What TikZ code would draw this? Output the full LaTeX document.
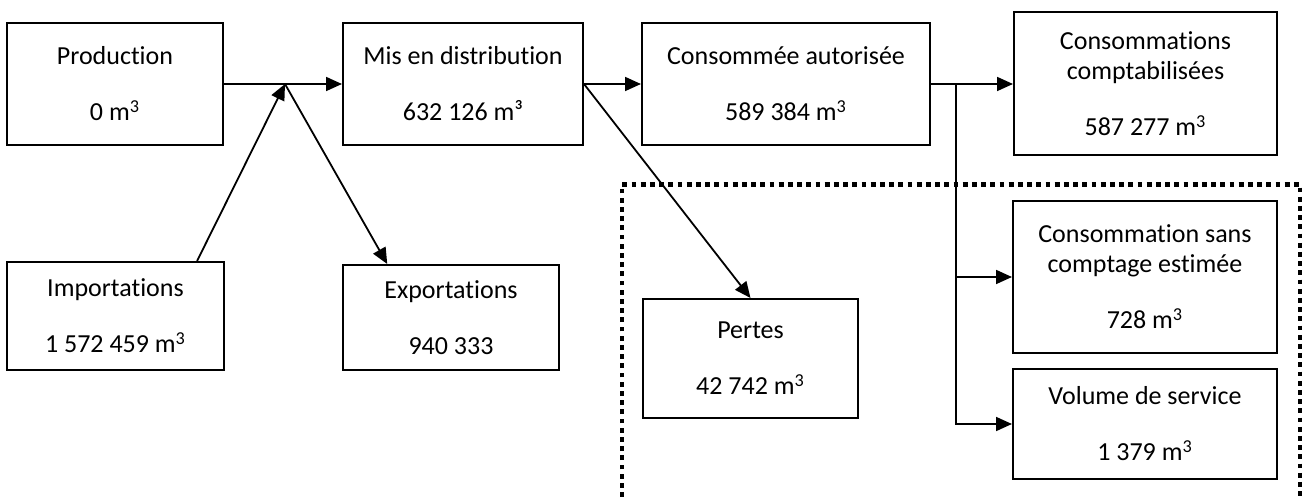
\documentclass[tikz,border=0pt]{standalone}
\usepackage{fontspec}
\setmainfont{Carlito}[Ligatures=NoCommon]
\usepackage{tikz}
\usetikzlibrary{arrows.meta}

\begin{document}
\begin{tikzpicture}[
  x=0.5pt, y=-0.5pt,
  every node/.style={font=\fontsize{13}{15}\selectfont, align=center},
  bloc/.style={rectangle, draw, line width=1pt, inner sep=2pt},
  flux/.style={draw, line width=0.9pt, -{Triangle[length=8pt, width=7pt]}},
  perimetre/.style={line width=2.4pt, dash pattern=on 2.4pt off 2.2pt},
]
  \useasboundingbox (0,0) rectangle (1307,497);

  % boxes
  \node[bloc, minimum width=108pt, minimum height=61pt] (prod) at (115,84) {Production\\[13pt]0 m\textsuperscript{3}};
  \node[bloc, minimum width=120pt, minimum height=61pt] (mis) at (463,84) {Mis en distribution\\[13pt]632 126 m³};
  \node[bloc, minimum width=144pt, minimum height=61pt] (auto) at (786,84) {Consommée autorisée\\[13pt]589 384 m\textsuperscript{3}};
  \node[bloc, minimum width=131.5pt, minimum height=71.5pt] (compt) at (1145.5,84) {Consommations\\comptabilisées\\[13pt]587 277 m\textsuperscript{3}};
  \node[bloc, minimum width=108.5pt, minimum height=54pt] (imp) at (115.5,316) {Importations\\[13pt]1 572 459 m\textsuperscript{3}};
  \node[bloc, minimum width=108pt, minimum height=52.5pt] (exp) at (451,317.5) {Exportations\\[13pt]940 333};
  \node[bloc, minimum width=107.5pt, minimum height=59.5pt] (pertes) at (750.5,358.5) {Pertes\\[13pt]42 742 m\textsuperscript{3}};
  \node[bloc, minimum width=132pt, minimum height=76pt] (csc) at (1145,277) {Consommation sans\\comptage estimée\\[13pt]728 m\textsuperscript{3}};
  \node[bloc, minimum width=132pt, minimum height=55pt] (vol) at (1145,424) {Volume de service\\[13pt]1 379 m\textsuperscript{3}};

  % losses perimeter
  \draw[perimetre] (622,497) -- (622,184.5) -- (1300,184.5) -- (1300,497);

  % flows
  \coordinate (jn) at (285,84);
  \coordinate (br) at (956,84);
  \draw[flux] (prod.east) -- (mis.west);
  \draw[flux] (imp.34) -- (jn);
  \draw[flux] (jn) -- (exp.140);
  \draw[flux] (mis.east) -- (auto.west);
  \draw[flux] (mis.east) -- (pertes.north);
  \draw[flux] (auto.east) -- (compt.west);
  \draw[flux] (br) |- (csc.west);
  \draw[flux] (br) |- (vol.west);
\end{tikzpicture}
\end{document}
